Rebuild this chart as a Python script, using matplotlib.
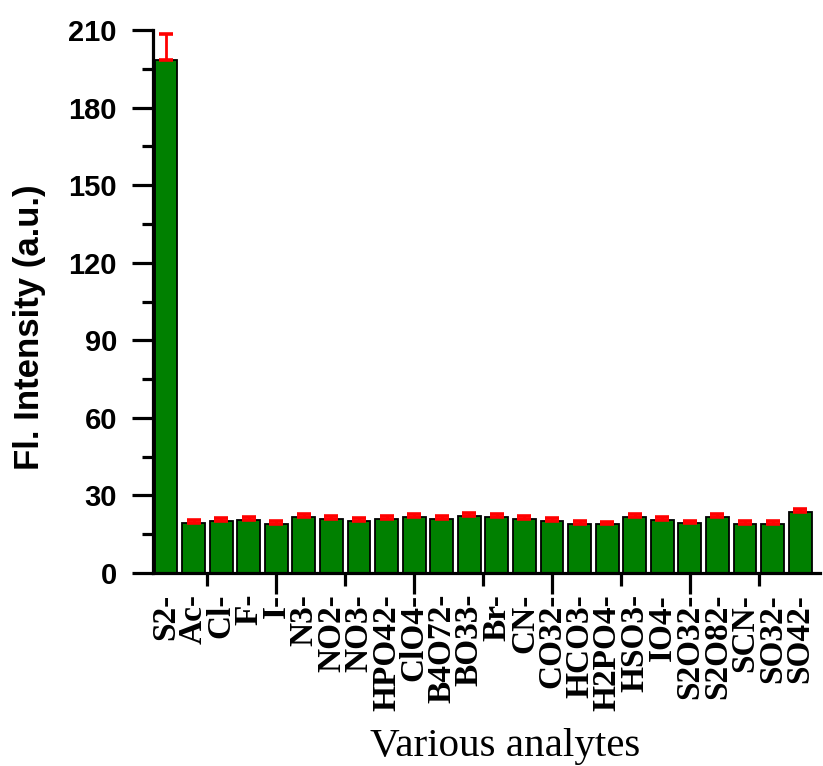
import matplotlib
matplotlib.use("Agg")
import matplotlib.pyplot as plt
from matplotlib.ticker import FixedLocator, NullFormatter

analytes = ["S2-", "Ac-", "Cl-", "F-", "I-", "N3-", "NO2-", "NO3-", "HPO42-",
            "ClO4-", "B4O72-", "BO33-", "Br-", "CN-", "CO32-", "HCO3-", "H2PO4-",
            "HSO3-", "IO4-", "S2O32-", "S2O82-", "SCN-", "SO32-", "SO42-"]
intensity = [198.4, 19.3, 20.1, 20.5, 18.9, 21.5, 20.8, 20.0, 20.8,
             21.7, 20.8, 22.0, 21.8, 21.0, 20.1, 19.1, 18.8,
             21.7, 20.4, 19.2, 21.8, 18.9, 18.9, 23.5]
errors = [10.0, 1.2, 1.2, 1.2, 1.1, 1.2, 1.2, 1.2, 1.2,
          1.2, 1.2, 1.2, 1.2, 1.2, 1.2, 1.1, 1.1,
          1.2, 1.2, 1.1, 1.2, 1.1, 1.1, 1.3]
y_major = [0, 30, 60, 90, 120, 150, 180, 210]
y_minor = [15, 45, 75, 105, 135, 165, 195]
x_major = [5, 10, 15, 20]
x_minor = [2.5, 7.5, 12.5, 17.5, 22.5]

W, H = 823, 766
fig = plt.figure(figsize=(W / 100, H / 100), dpi=100)
ax = fig.add_axes([153 / W, (H - 573) / H, 667 / W, 543 / H])

pos = list(range(1, len(analytes) + 1))
ax.bar(pos, intensity, width=0.83, color="#008000", edgecolor="black",
       linewidth=1.3, zorder=2)
ax.errorbar(pos, intensity, yerr=[[0] * len(errors), errors], fmt="none",
            ecolor="red", elinewidth=2.0, capsize=5, capthick=2.6, zorder=3)

ax.set_xlim(0.53, 24.72)
ax.set_ylim(0, 210)

for side in ("top", "right"):
    ax.spines[side].set_visible(False)
for side in ("left", "bottom"):
    ax.spines[side].set_linewidth(2.3)

ax.yaxis.set_major_locator(FixedLocator(y_major))
ax.yaxis.set_minor_locator(FixedLocator(y_minor))
ax.xaxis.set_major_locator(FixedLocator(x_major))
ax.xaxis.set_minor_locator(FixedLocator(x_minor))
ax.xaxis.set_major_formatter(NullFormatter())

ax.tick_params(axis="y", which="major", direction="out", length=15, width=2.3,
               pad=11)
ax.tick_params(axis="y", which="minor", direction="out", length=8, width=2.3)
ax.tick_params(axis="x", which="major", direction="out", length=15, width=2.3)
ax.tick_params(axis="x", which="minor", direction="out", length=9, width=2.3)

for lab in ax.get_yticklabels():
    lab.set_fontfamily("Liberation Sans")
    lab.set_fontweight("bold")
    lab.set_fontsize(21)

for x, name in zip(pos, analytes):
    ax.annotate(name, xy=(x, 0), xycoords=("data", "axes fraction"),
                xytext=(0, -15), textcoords="offset points",
                rotation=90, ha="center", va="top",
                fontfamily="Liberation Serif", fontweight="bold", fontsize=24)

fig.text(30 / W, 1 - 327 / H, "Fl. Intensity (a.u.)", rotation=90,
         ha="center", va="center", fontfamily="Liberation Sans",
         fontweight="bold", fontsize=25)
fig.text(505 / W, 1 - 756 / H, "Various analytes", ha="center",
         va="baseline", fontfamily="Liberation Serif", fontsize=29.5)

fig.savefig("out.png", dpi=100)
